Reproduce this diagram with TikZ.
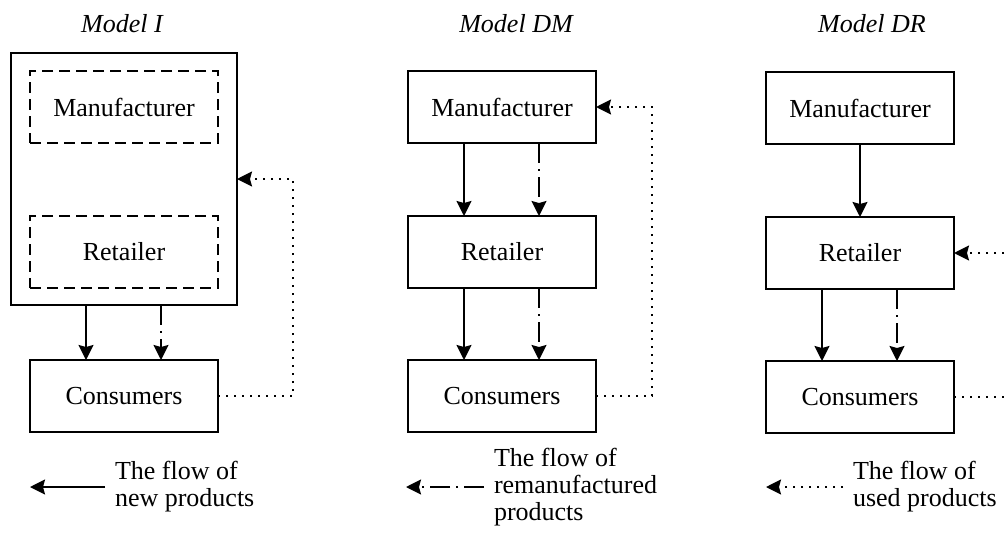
\documentclass[tikz,border=0pt]{standalone}
\usepackage{fontspec}
\setmainfont{Liberation Serif}
\usetikzlibrary{arrows.meta}
\begin{document}
\begin{tikzpicture}[x=1pt,y=-1pt,
  txt/.style={font=\fontsize{26}{27}\selectfont},
  box/.style={draw, line width=2pt, minimum width=188pt, minimum height=72pt, inner sep=0pt, outer sep=0pt, txt},
  dbox/.style={box, dash pattern=on 11pt off 6pt},
  ttl/.style={font=\fontsize{26}{27}\selectfont\itshape, anchor=base},
  leg/.style={txt, align=left, anchor=west, inner sep=0pt, outer sep=0pt},
  tip/.style={-{Stealth[length=15pt,width=15pt,inset=2pt]}},
  solidflow/.style={tip, line width=2pt},
  dmflow/.style={tip, line width=2pt, dash pattern=on 20pt off 6pt on 2pt off 6pt},
  usedline/.style={line width=2pt, dash pattern=on 1.6pt off 6.4pt},
  usedflow/.style={usedline, tip},
]
\useasboundingbox (0,0) rectangle (1005,547);
\clip (0,0) rectangle (1005,547);

% Titles
\node[ttl] (tI) at (122,32) {Model I};
\node[ttl] (tDM) at (516,32) {Model DM};
\node[ttl] (tDR) at (872,32) {Model DR};

% Model I
\node[draw, line width=2pt, outer sep=0pt, minimum width=226pt, minimum height=252pt] (outI) at (124,179) {};
\node[dbox] (manI) at (124,107) {Manufacturer};
\node[dbox] (retI) at (124,252) {Retailer};
\node[box] (conI) at (124,396) {Consumers};
\draw[solidflow] ([xshift=-38pt]outI.south) -- ([xshift=-38pt]conI.north);
\draw[dmflow] ([xshift=37pt]outI.south) -- ([xshift=37pt]conI.north);
\draw[usedflow] (conI.east) -- ++(75,0) |- (outI.east);

% Model DM
\node[box] (manDM) at (502,107) {Manufacturer};
\node[box] (retDM) at (502,252) {Retailer};
\node[box] (conDM) at (502,396) {Consumers};
\draw[solidflow] ([xshift=-38pt]manDM.south) -- ([xshift=-38pt]retDM.north);
\draw[dmflow] ([xshift=37pt]manDM.south) -- ([xshift=37pt]retDM.north);
\draw[solidflow] ([xshift=-38pt]retDM.south) -- ([xshift=-38pt]conDM.north);
\draw[dmflow] ([xshift=37pt]retDM.south) -- ([xshift=37pt]conDM.north);
\draw[usedflow] (conDM.east) -- ++(56,0) |- (manDM.east);

% Model DR
\node[box] (manDR) at (860,108) {Manufacturer};
\node[box] (retDR) at (860,253) {Retailer};
\node[box] (conDR) at (860,397) {Consumers};
\draw[solidflow] (manDR.south) -- (retDR.north);
\draw[solidflow] ([xshift=-38pt]retDR.south) -- ([xshift=-38pt]conDR.north);
\draw[dmflow] ([xshift=37pt]retDR.south) -- ([xshift=37pt]conDR.north);
\coordinate (drA) at (1012,397);
\coordinate (drB) at (1012,253);
\draw[usedline] (conDR.east) -- (drA);
\draw[usedflow] (drB) -- (retDR.east);

% Legend
\node[leg] (lgI) at (115,487) {The flow of\\new products};
\coordinate (lgIend) at (30,487);
\draw[solidflow] ([xshift=-10pt]lgI.west) -- (lgIend);

\node[leg] (lgDM) at (494,487) {The flow of\\remanufactured\\products};
\coordinate (lgDMend) at (406,487);
\draw[dmflow] ([xshift=-10pt]lgDM.west) -- (lgDMend);

\node[leg] (lgDR) at (853,487) {The flow of\\used products};
\coordinate (lgDRend) at (766,487);
\draw[usedflow] ([xshift=-10pt]lgDR.west) -- (lgDRend);
\end{tikzpicture}
\end{document}
